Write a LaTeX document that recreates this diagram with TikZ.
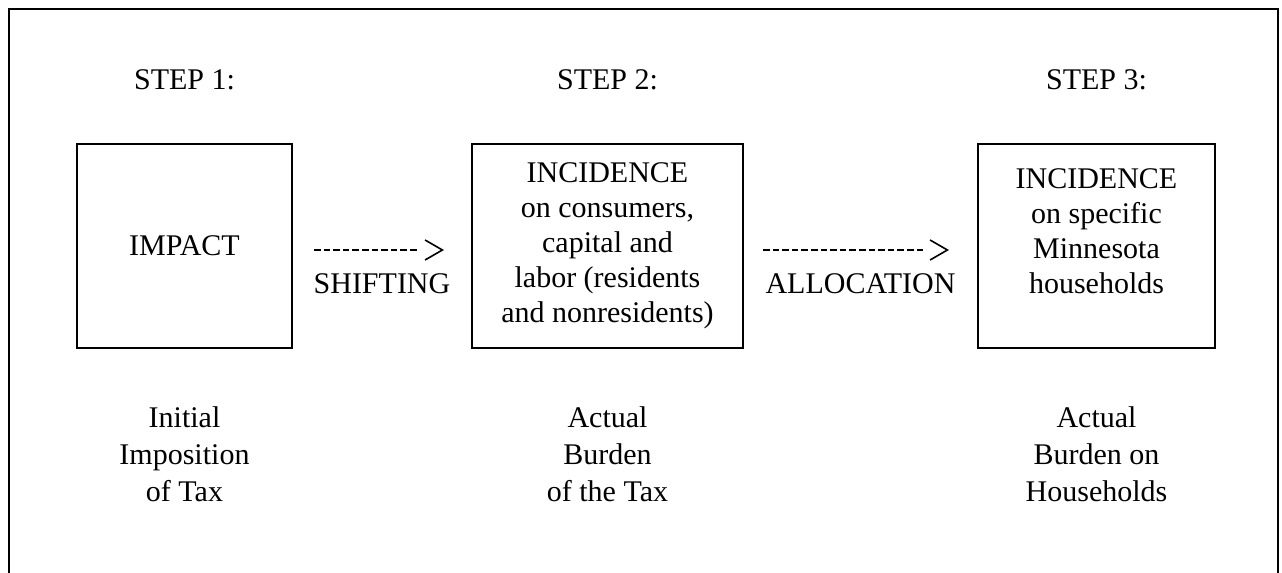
\documentclass[tikz,border=0pt]{standalone}
\usepackage{fontspec}
\setmainfont{Liberation Serif}
\usetikzlibrary{arrows.meta,positioning}
\tikzset{
  stepbox/.style={draw, line width=1.5pt, inner sep=0pt, minimum height=153pt},
  boxtext/.style={align=center, inner sep=0pt, font=\fontsize{22.5pt}{26.25pt}\selectfont},
  steplabel/.style={inner sep=0pt, font=\fontsize{22.5pt}{26.25pt}\selectfont},
  meaning/.style={align=center, inner sep=0pt, font=\fontsize{22.5pt}{27.75pt}\selectfont},
  shiftline/.style={line width=1.8pt,
    -{Straight Barb[length=13pt, width=15pt, line width=1.2pt]}},
  % ten hyphens, then one more and a long gap before the tip
  shortdash/.style={dash pattern=on 5pt off 2.2pt on 5pt off 2.2pt on 5pt off 2.2pt
    on 5pt off 2.2pt on 5pt off 2.2pt on 5pt off 2.2pt on 5pt off 2.2pt
    on 5pt off 2.2pt on 5pt off 2.2pt on 5pt off 2.2pt on 5pt off 27.2pt},
  longdash/.style={dash pattern=on 5pt off 2.2pt on 5pt off 2.2pt on 5pt off 2.2pt
    on 5pt off 2.2pt on 5pt off 2.2pt on 5pt off 2.2pt on 5pt off 2.2pt
    on 5pt off 2.2pt on 5pt off 2.2pt on 5pt off 2.2pt on 5pt off 2.2pt
    on 5pt off 2.2pt on 5pt off 2.2pt on 5pt off 2.2pt on 5pt off 2.2pt
    on 5pt off 2.2pt on 5pt off 27.2pt}
}
\begin{document}
\begin{tikzpicture}[x=0.75pt, y=-0.75pt]
\useasboundingbox (0,0) rectangle (1282,573);
% frame, open below
\draw[line width=1.5pt] (9,9) rectangle (1278,620);
\node[steplabel] (step1) at (184.5,80) {STEP 1:};
\node[steplabel] (step2) at (607.5,80) {STEP 2:};
\node[steplabel] (step3) at (1096.5,80) {STEP 3:};
\node[stepbox, boxtext, minimum width=161.25pt] (impact) at (184.5,246) {IMPACT};
\node[stepbox, boxtext, minimum width=203.25pt] (burden) at (607.5,246) {INCIDENCE\\on consumers,\\capital and\\labor (residents\\and nonresidents)};
\node[stepbox, minimum width=177.75pt] (households) at (1096.5,246) {};
\node[boxtext, anchor=north] (householdstext) at (1096.5,168) {INCIDENCE\\on specific\\Minnesota\\households};
\draw[shiftline, shortdash, shorten <=15.75pt, shorten >=20.25pt] ([yshift=-3pt]impact.east) -- node[midway, below=17pt, steplabel] (shifting) {SHIFTING} ([yshift=-3pt]burden.west);
\draw[shiftline, longdash, shorten <=14.25pt, shorten >=21pt] ([yshift=-3pt]burden.east) -- node[midway, below=17pt, steplabel] (allocation) {ALLOCATION} ([yshift=-3pt]households.west);
\node[meaning] (initial) at (184.5,454) {Initial\\Imposition\\of Tax};
\node[meaning] (actual) at (607.5,454) {Actual\\Burden\\of the Tax};
\node[meaning] (onhouseholds) at (1096.5,454) {Actual\\Burden on\\Households};
\end{tikzpicture}
\end{document}
